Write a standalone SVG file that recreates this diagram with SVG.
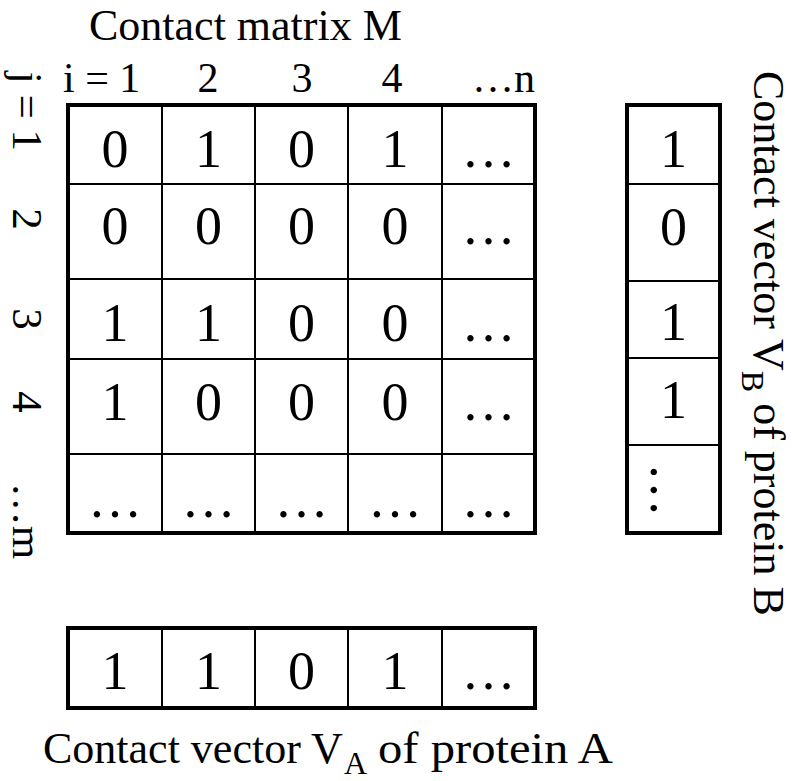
<svg xmlns="http://www.w3.org/2000/svg" width="792" height="781" viewBox="0 0 792 781">
<style>
  text { font-family: "Liberation Serif", "Times New Roman", serif; fill: #000; }
  .lbl { font-size: 44px; }
  .col { font-size: 42px; }
  .row { font-size: 43px; }
  .cell { font-size: 54px; text-anchor: middle; }
  .sub { font-size: 32px; }
  .outer { fill: #fff; stroke: #000; stroke-width: 4; }
  .grid { stroke: #000; stroke-width: 2; fill: none; }
</style>
<rect width="792" height="781" fill="#fff"/>

<g id="title">
  <text class="lbl" x="89" y="40">Contact matrix M</text>
</g>

<g id="col-labels" class="col">
  <text x="63" y="92">i = 1</text>
  <text x="208" y="92" text-anchor="middle">2</text>
  <text x="302" y="92" text-anchor="middle">3</text>
  <text x="392" y="92" text-anchor="middle">4</text>
  <text x="535" y="92" text-anchor="end">…n</text>
</g>

<g id="row-labels" class="row">
  <text transform="translate(13,151) rotate(90)" text-anchor="end">j = 1</text>
  <text transform="translate(13,219) rotate(90)" text-anchor="middle">2</text>
  <text transform="translate(13,319) rotate(90)" text-anchor="middle">3</text>
  <text transform="translate(13,402) rotate(90)" text-anchor="middle">4</text>
  <text transform="translate(13,521) rotate(90)" text-anchor="middle">…m</text>
</g>

<g id="matrix">
  <rect class="outer" x="68" y="105" width="467" height="428"/>
  <path class="grid" d="M162 105V533M255 105V533M348 105V533M442 105V533M68 184H535M68 279H535M68 359H535M68 454H535"/>
  <g class="cell">
    <text x="115" y="167">0</text><text x="208.5" y="167">1</text><text x="301.5" y="167">0</text><text x="395" y="167">1</text><text x="488.5" y="167">…</text>
    <text x="115" y="244">0</text><text x="208.5" y="244">0</text><text x="301.5" y="244">0</text><text x="395" y="244">0</text><text x="488.5" y="244">…</text>
    <text x="115" y="341">1</text><text x="208.5" y="341">1</text><text x="301.5" y="341">0</text><text x="395" y="341">0</text><text x="488.5" y="341">…</text>
    <text x="115" y="420">1</text><text x="208.5" y="420">0</text><text x="301.5" y="420">0</text><text x="395" y="420">0</text><text x="488.5" y="420">…</text>
    <text x="115" y="517">…</text><text x="208.5" y="517">…</text><text x="301.5" y="517">…</text><text x="395" y="517">…</text><text x="488.5" y="517">…</text>
  </g>
</g>

<g id="vector-b">
  <rect class="outer" x="627" y="105" width="93" height="428"/>
  <path class="grid" d="M627 184H720M627 281H720M627 358H720M627 445H720"/>
  <g class="cell">
    <text x="673.5" y="167">1</text>
    <text x="673.5" y="245">0</text>
    <text x="673.5" y="340">1</text>
    <text x="673.5" y="418">1</text>
    <text transform="translate(651,490) rotate(90)">…</text>
  </g>
</g>

<g id="label-b">
  <text class="lbl" transform="translate(754,71) rotate(90)">Contact vector V<tspan class="sub" dy="12">B</tspan><tspan dy="-12"> of protein B</tspan></text>
</g>

<g id="vector-a">
  <rect class="outer" x="68" y="628" width="467" height="80"/>
  <path class="grid" d="M162 628V708M255 628V708M348 628V708M442 628V708"/>
  <g class="cell">
    <text x="115" y="689">1</text>
    <text x="208.5" y="689">1</text>
    <text x="301.5" y="689">0</text>
    <text x="395" y="689">1</text>
    <text x="488.5" y="689">…</text>
  </g>
</g>

<g id="label-a">
  <text class="lbl" x="43" y="763">Contact vector V</text>
  <text class="sub" x="344" y="774">A</text>
  <text class="lbl" x="378" y="763" textLength="235" lengthAdjust="spacingAndGlyphs">of protein A</text>
</g>

<g id="connectors"></g>
</svg>
